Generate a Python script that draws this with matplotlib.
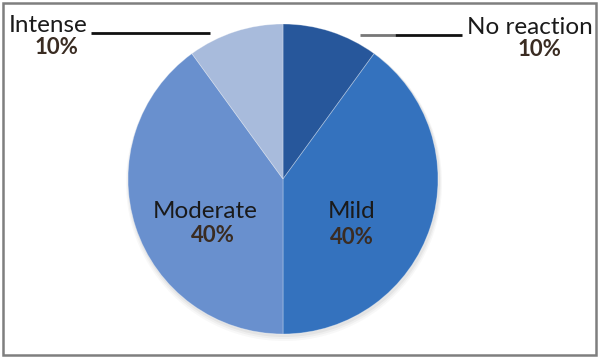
import matplotlib
matplotlib.use("Agg")
import matplotlib.pyplot as plt
from matplotlib.patches import Rectangle, Ellipse

categories = ["No reaction", "Mild", "Moderate", "Intense"]
values = [10, 40, 40, 10]
pct_labels = ["10%", "40%", "40%", "10%"]
colors = ["#27579B", "#3472BE", "#6990CE", "#A8BBDC"]

plt.rcParams['font.family'] = ['Lato', 'DejaVu Sans']

W, H = 600, 359
fig = plt.figure(figsize=(W/100, H/100), dpi=100)
ax = fig.add_axes([0, 0, 1, 1])

def Y(y):
    return H - y

cx, cy, r = 283, Y(179), 155

# soft shadow
for i, a in enumerate([0.05, 0.07, 0.09]):
    ax.add_patch(Ellipse((cx + 1, cy - 4 + i), 2*r + 6 - 2*i, 2*r + 6 - 2*i,
                         color="#7a7a7a", alpha=a, lw=0, zorder=0))

ax.pie(values, colors=colors, startangle=90, counterclock=False,
       center=(cx, cy), radius=r, frame=True,
       wedgeprops=dict(linewidth=0.6, edgecolor="#ffffff55"))
ax.set_xlim(0, W)
ax.set_ylim(0, H)
ax.set_aspect('equal')
ax.axis('off')

# frame
ax.add_patch(Rectangle((3, Y(355)), 593, 352, fill=False, edgecolor="#7f7f7f", lw=1.8, zorder=5))

txt = "#1a1a1a"
pc = "#3a2c22"
fs = 17.5
pfs = 16
# Intense
ax.text(9, Y(25), categories[3], fontsize=fs, color=txt, ha='left', va='center')
ax.text(56, Y(48), pct_labels[3], fontsize=pfs, color=pc, ha='center', va='center', fontweight='bold')
ax.plot([91, 210], [Y(33), Y(33)], color="#111111", lw=2, solid_capstyle='butt')
# No reaction
ax.text(593, Y(27), categories[0], fontsize=fs, color=txt, ha='right', va='center')
ax.text(539, Y(50), pct_labels[0], fontsize=pfs, color=pc, ha='center', va='center', fontweight='bold')
ax.plot([360, 395], [Y(35), Y(35)], color="#777777", lw=2, solid_capstyle='butt')
ax.plot([395, 462], [Y(35), Y(35)], color="#111111", lw=2, solid_capstyle='butt')
# Moderate
ax.text(205, Y(211), categories[2], fontsize=fs, color=txt, ha='center', va='center')
ax.text(213, Y(236), pct_labels[2], fontsize=pfs, color=pc, ha='center', va='center', fontweight='bold')
# Mild
ax.text(352, Y(212), categories[1], fontsize=fs, color=txt, ha='center', va='center')
ax.text(352, Y(237), pct_labels[1], fontsize=pfs, color=pc, ha='center', va='center', fontweight='bold')

fig.savefig("out.png", dpi=100, facecolor="white")
